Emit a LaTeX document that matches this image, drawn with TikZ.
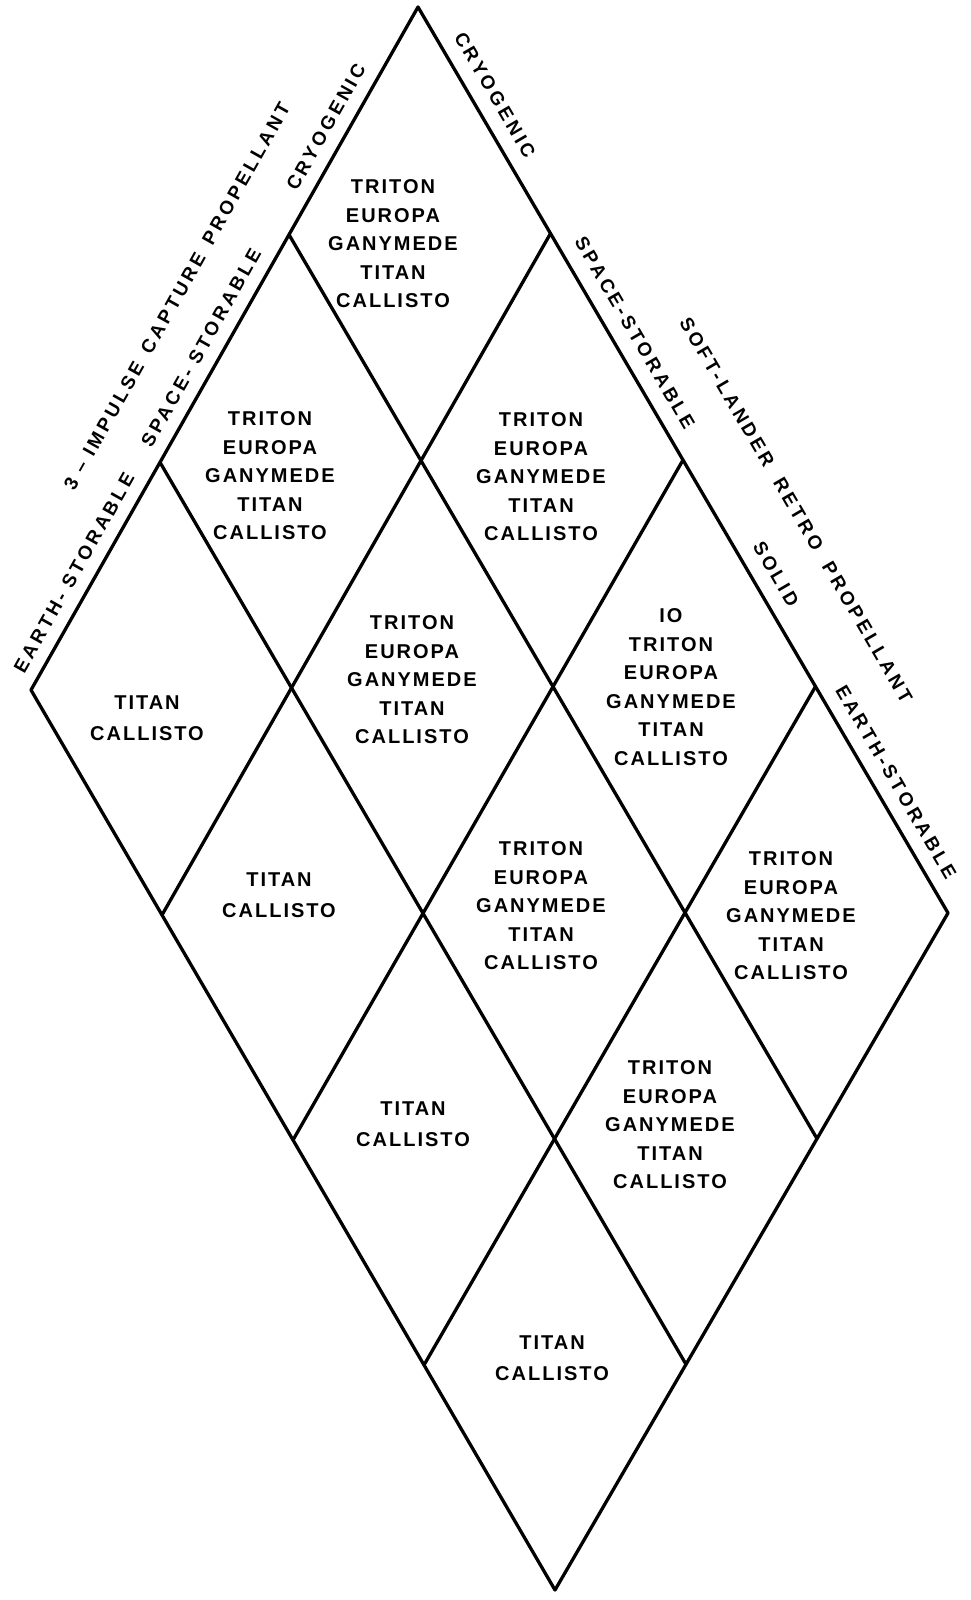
\documentclass[tikz,border=0pt]{standalone}
\usepackage{fontspec}
\setmainfont{Liberation Sans}
\newfontfamily\lblfont{Liberation Sans}[LetterSpace=10]
\newfontfamily\edgefont{Liberation Sans}[LetterSpace=18]
\begin{document}
\begin{tikzpicture}[x=1pt,y=-1pt,
  gridline/.style={line width=3.3pt,line cap=round,line join=round},
  celltxt/.style={font=\lblfont\bfseries\fontsize{20}{28.5}\selectfont,align=center,inner sep=0pt},
  twotxt/.style={font=\lblfont\bfseries\fontsize{20}{31}\selectfont,align=center,inner sep=0pt},
  lblL/.style={font=\edgefont\bfseries\fontsize{19}{21}\selectfont,rotate=60.6,inner sep=0pt},
  lblR/.style={font=\edgefont\bfseries\fontsize{19}{21}\selectfont,rotate=-59.7,inner sep=0pt}]
\useasboundingbox (0,0) rectangle (970,1600);
% grid vertices (bilinear between the four corners)
\foreach \i in {0,...,3}{
  \foreach \j in {0,...,4}{
    \pgfmathsetmacro\uu{\i/3}
    \pgfmathsetmacro\vv{\j/4}
    \pgfmathsetmacro\px{(1-\uu)*(1-\vv)*418+\uu*(1-\vv)*31+(1-\uu)*\vv*948+\uu*\vv*555}
    \pgfmathsetmacro\py{(1-\uu)*(1-\vv)*7+\uu*(1-\vv)*690+(1-\uu)*\vv*913+\uu*\vv*1590}
    \coordinate (n-\i-\j) at (\px,\py);
  }
}
% grid lines
\foreach \i in {0,...,3}{ \draw[gridline] (n-\i-0) -- (n-\i-4); }
\foreach \j in {0,...,4}{ \draw[gridline] (n-0-\j) -- (n-3-\j); }

% cell texts
\node[celltxt] (c00) at (393,244) {TRITON\\EUROPA\\GANYMEDE\\TITAN\\CALLISTO};
\node[celltxt] (c10) at (270,476) {TRITON\\EUROPA\\GANYMEDE\\TITAN\\CALLISTO};
\node[celltxt] (c01) at (541,477) {TRITON\\EUROPA\\GANYMEDE\\TITAN\\CALLISTO};
\node[twotxt] (c20) at (147,718) {TITAN\\CALLISTO};
\node[celltxt] (c11) at (412,680) {TRITON\\EUROPA\\GANYMEDE\\TITAN\\CALLISTO};
\node[celltxt] (c02) at (671,687) {IO\\TRITON\\EUROPA\\GANYMEDE\\TITAN\\CALLISTO};
\node[twotxt] (c21) at (279,895) {TITAN\\CALLISTO};
\node[celltxt] (c12) at (541,906) {TRITON\\EUROPA\\GANYMEDE\\TITAN\\CALLISTO};
\node[celltxt] (c03) at (791,916) {TRITON\\EUROPA\\GANYMEDE\\TITAN\\CALLISTO};
\node[twotxt] (c22) at (413,1124) {TITAN\\CALLISTO};
\node[celltxt] (c13) at (670,1125) {TRITON\\EUROPA\\GANYMEDE\\TITAN\\CALLISTO};
\node[twotxt] (c23) at (552,1358) {TITAN\\CALLISTO};

% edge labels, left side
\node[lblL] (lcryo) at (326,127) {CRYOGENIC};
\node[lblL] (lspace) at (201,348) {SPACE- STORABLE};
\node[lblL] (learth) at (74,573) {EARTH- STORABLE};
\node[lblL] (lhead) at (177,296) {3 \textendash\ IMPULSE\hspace{4pt} CAPTURE\hspace{4pt} PROPELLANT};
% edge labels, right side
\node[lblR] (rcryo) at (495,95) {CRYOGENIC};
\node[lblR] (rspace) at (635,333) {SPACE-STORABLE};
\node[lblR] (rsolid) at (776,574) {SOLID};
\node[lblR] (rearth) at (896,782) {EARTH-STORABLE};
\node[lblR] (rhead) at (796,510) {SOFT-LANDER\hspace{8pt} RETRO\hspace{8pt} PROPELLANT};
\end{tikzpicture}
\end{document}
